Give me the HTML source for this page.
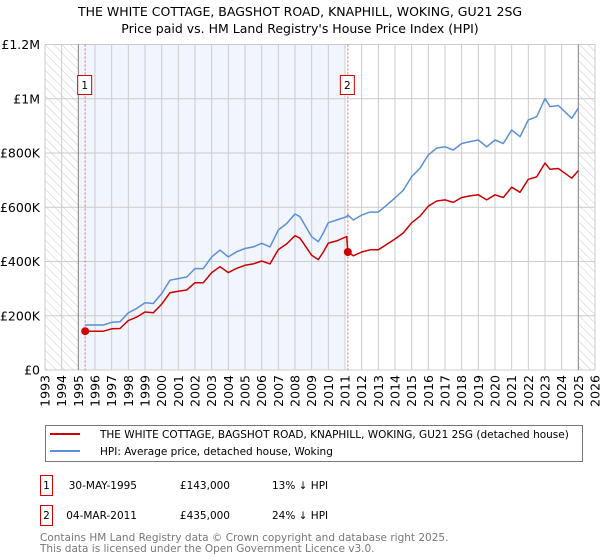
<!DOCTYPE html>
<html><head><meta charset="utf-8"><style>
body{margin:0;background:#fff;}
svg{display:block;font-family:"DejaVu Sans","Liberation Sans",sans-serif;}
</style></head><body>
<svg id="chart" width="600" height="560" viewBox="0 0 600 560" xmlns="http://www.w3.org/2000/svg">
<defs>
<pattern id="hatch" patternUnits="userSpaceOnUse" width="6" height="6" patternTransform="rotate(-45)">
<line x1="0" y1="0" x2="0" y2="6" stroke="#bbb" stroke-width="0.8"/>
</pattern>
</defs>
<text x="300" y="16" text-anchor="middle" font-size="12.5">THE WHITE COTTAGE, BAGSHOT ROAD, KNAPHILL, WOKING, GU21 2SG</text>
<text x="300" y="33" text-anchor="middle" font-size="12.5">Price paid vs. HM Land Registry's House Price Index (HPI)</text>
<g id="plot"></g>
<g id="legend">
<rect x="45.5" y="425.5" width="537" height="36" fill="#fff" stroke="#777"/>
<line x1="50" y1="434" x2="80" y2="434" stroke="#cc0000" stroke-width="2"/>
<text x="100" y="438" font-size="10.5">THE WHITE COTTAGE, BAGSHOT ROAD, KNAPHILL, WOKING, GU21 2SG (detached house)</text>
<line x1="50" y1="451" x2="80" y2="451" stroke="#5b8fd6" stroke-width="2"/>
<text x="100" y="455" font-size="10.5">HPI: Average price, detached house, Woking</text>
</g>
<g font-size="10.5">
<rect x="40.5" y="475.5" width="12" height="20" fill="#fff" stroke="#cc0000"/>
<text x="46.5" y="489" text-anchor="middle">1</text>
<text x="137" y="489" text-anchor="end">30-MAY-1995</text>
<text x="230" y="489" text-anchor="end">£143,000</text>
<text x="272" y="489">13% ↓ HPI</text>
<rect x="40.5" y="505.5" width="12" height="20" fill="#fff" stroke="#cc0000"/>
<text x="46.5" y="519" text-anchor="middle">2</text>
<text x="137" y="519" text-anchor="end">04-MAR-2011</text>
<text x="230" y="519" text-anchor="end">£435,000</text>
<text x="272" y="519">24% ↓ HPI</text>
</g>
<text x="40" y="541" font-size="10.5" fill="#777">Contains HM Land Registry data © Crown copyright and database right 2025.</text>
<text x="40" y="552" font-size="10.5" fill="#777">This data is licensed under the Open Government Licence v3.0.</text>
</svg>
<script>
const years=[1995.41,1996,1996.5,1997,1997.5,1998,1998.5,1999,1999.5,2000,2000.5,2001,2001.5,2002,2002.5,2003,2003.5,2004,2004.5,2005,2005.5,2006,2006.5,2007,2007.5,2008,2008.3,2009,2009.4,2009.7,2010,2010.5,2011.1,2011.17,2011.5,2012,2012.5,2013,2013.5,2014,2014.5,2015,2015.5,2016,2016.5,2017,2017.5,2018,2018.5,2019,2019.5,2020,2020.5,2021,2021.5,2022,2022.5,2023,2023.3,2023.8,2024.2,2024.6,2025];
const hpiValues=[166,166,166,176,178,211,227,248,245,282,331,337,343,374,374,417,442,417,436,448,454,467,454,516,540,575,565,491,473,505,543,553,565,571,553,571,582,582,608,634,663,713,744,793,818,823,811,835,842,848,823,848,835,885,860,922,934,1001,971,975,952,928,965];
const propValues=[143,143,143,152,153,182,195,214,211,243,285,290,295,322,322,359,381,359,375,386,391,402,391,444,465,495,486,423,407,435,468,476,492,435,421,435,443,443,463,483,505,543,567,604,623,627,618,636,642,646,627,646,636,674,655,703,712,763,740,743,725,707,735];
const saleYears=[1995.41,2011.17];
const saleValues=[143,435];
const saleLabels=["1","2"];
const yTicks=[0,200,400,600,800,1000,1200];
const yTickLabels=["£0","£200K","£400K","£600K","£800K","£1M","£1.2M"];
const xTicks=[1993,1994,1995,1996,1997,1998,1999,2000,2001,2002,2003,2004,2005,2006,2007,2008,2009,2010,2011,2012,2013,2014,2015,2016,2017,2018,2019,2020,2021,2022,2023,2024,2025,2026];

const X0=45,X1=595,Y0=370,Y1=44.5;
const xs=y=>X0+(y-1993)/(2026-1993)*(X1-X0);
const ys=v=>Y0-v/1200*(Y0-Y1);
const NS="http://www.w3.org/2000/svg";
const plot=document.getElementById('plot');
function mk(tag,attrs){const e=document.createElementNS(NS,tag);for(const k in attrs)e.setAttribute(k,attrs[k]);plot.appendChild(e);return e;}

let e;
e=mk('rect',{x:xs(1995),y:Y1,width:xs(2011)-xs(1995),height:Y0-Y1,fill:'#eef3fd',opacity:0.8});


e=mk('rect',{x:X0,y:Y1,width:xs(1995)-X0,height:Y0-Y1,fill:'url(#hatch)'});


e=mk('rect',{x:xs(2025),y:Y1,width:X1-xs(2025),height:Y0-Y1,fill:'url(#hatch)'});



xTicks.forEach(t=>{
  const g=mk('line',{x1:xs(t),x2:xs(t),y1:Y1,y2:Y0,stroke:'#ccc','stroke-width':1});
  
  
  const x=xs(t)+4.5;
  const l=mk('text',{x:x,y:375,transform:`rotate(-90 ${x} 375)`,'text-anchor':'end','font-size':12.5});
  l.textContent=t;
  
  
});
yTicks.forEach((t,i)=>{
  const g=mk('line',{x1:X0,x2:X1,y1:ys(t),y2:ys(t),stroke:'#ccc','stroke-width':1});
  
  
  const l=mk('text',{x:40,y:ys(t)+4.5,'text-anchor':'end','font-size':12.5});
  l.textContent=yTickLabels[i];
  
  
});
e=mk('line',{x1:xs(1995),x2:xs(1995),y1:Y1,y2:Y0,stroke:'#888','stroke-width':1});


e=mk('line',{x1:xs(2025),x2:xs(2025),y1:Y1,y2:Y0,stroke:'#888','stroke-width':1});



saleYears.forEach((y,i)=>{
  const l=mk('line',{x1:xs(y),x2:xs(y),y1:Y1,y2:Y0,stroke:'#e66','stroke-width':1,'stroke-dasharray':'2,2'});
  
  
  const r=mk('rect',{x:xs(y)-7.5,y:75.5,width:14,height:19,fill:'#fff',stroke:'#cc0000'});
  
  
  const t=mk('text',{x:xs(y)-0.5,y:89,'text-anchor':'middle','font-size':10.5});
  t.textContent=saleLabels[i];
  
  
});

const path=vals=>years.map((y,i)=>(i?'L':'M')+xs(y).toFixed(1)+','+ys(vals[i]).toFixed(1)).join('');
e=mk('path',{d:path(hpiValues),fill:'none',stroke:'#5b8fd6','stroke-width':1.5,'stroke-linejoin':'round'});


e=mk('path',{d:path(propValues),fill:'none',stroke:'#cc0000','stroke-width':1.5,'stroke-linejoin':'round'});


saleYears.forEach((y,i)=>{
  const c=mk('circle',{cx:xs(y),cy:ys(saleValues[i]),r:4,fill:'#cc0000'});
  
  
});
</script>
</body></html>
